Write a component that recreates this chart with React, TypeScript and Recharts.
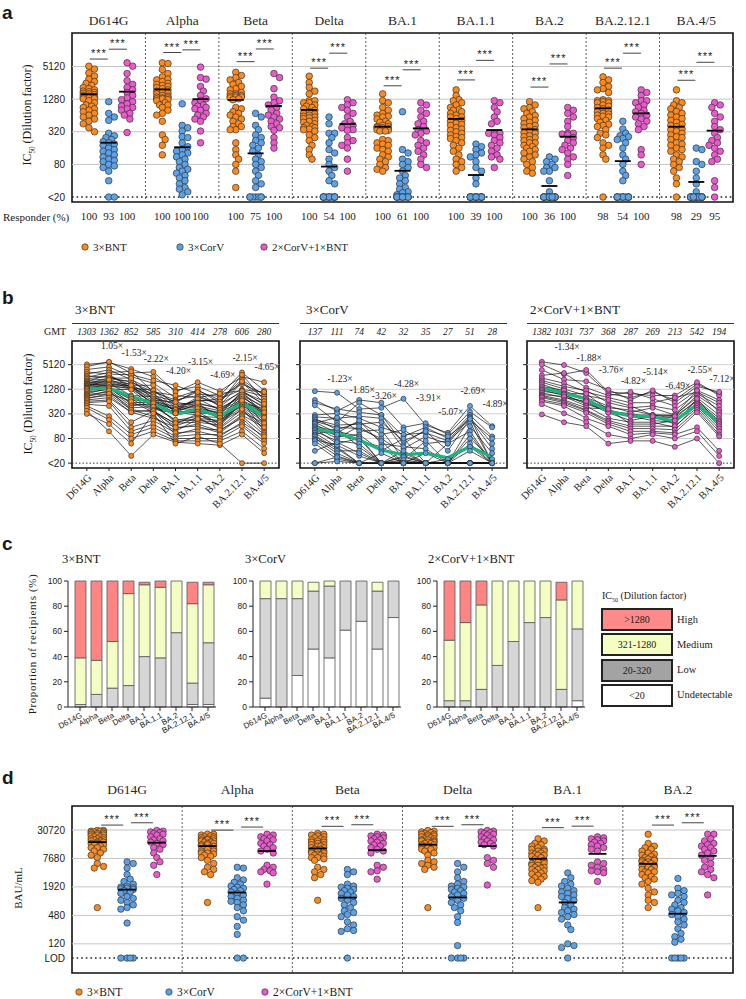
import React from "react";
import { ComposedChart, BarChart, Bar, Line, Scatter, XAxis, YAxis, ReferenceLine, ReferenceArea } from "recharts";

const SERIF = '"Liberation Serif", "Times New Roman", serif';
const SANS = '"Liberation Sans", Arial, sans-serif';
const INK = "#1a1a1a";

const variants = ["D614G", "Alpha", "Beta", "Delta", "BA.1", "BA.1.1", "BA.2", "BA.2.12.1", "BA.4/5"];
const cohorts = ["3×BNT", "3×CorV", "2×CorV+1×BNT"];
const cohortColors = ["#ff8a1c", "#5aa2ea", "#ee58cf"];

// IC50 per participant, columns follow `variants`; 0 = below the <20 cut-off
const bntIc50 = [
  [5200, 5800, 4000, 2600, 1200, 1500, 900, 3300, 1200],
  [4600, 6000, 3200, 3400, 1100, 1900, 1150, 2600, 1900],
  [3900, 4500, 2600, 1800, 800, 1200, 700, 2200, 900],
  [3400, 3000, 2900, 2100, 1600, 1000, 850, 1700, 1000],
  [3000, 3800, 2200, 1200, 600, 1250, 600, 2900, 700],
  [2700, 2500, 1900, 1100, 900, 800, 1000, 1200, 850],
  [2500, 3300, 3500, 1100, 700, 900, 520, 1900, 600],
  [2300, 2700, 1600, 1600, 500, 650, 750, 1250, 1100],
  [2100, 2300, 2000, 900, 650, 1100, 480, 1200, 520],
  [2000, 2900, 1400, 1200, 450, 700, 640, 2000, 760],
  [1900, 2100, 1700, 800, 550, 600, 420, 900, 480],
  [1800, 2000, 1500, 1000, 400, 820, 560, 1100, 650],
  [1750, 2400, 2400, 700, 620, 500, 380, 1000, 440],
  [1700, 1900, 1350, 950, 350, 560, 450, 800, 400],
  [1650, 1700, 1500, 650, 480, 460, 330, 1100, 560],
  [1600, 1800, 900, 850, 380, 750, 400, 700, 360],
  [1550, 1600, 1300, 600, 420, 420, 350, 650, 330],
  [1500, 2200, 1450, 750, 380, 520, 300, 1150, 300],
  [1450, 1500, 1400, 560, 340, 380, 270, 600, 420],
  [1400, 1400, 700, 680, 330, 440, 250, 950, 280],
  [1380, 1650, 1600, 500, 360, 340, 310, 560, 250],
  [1350, 1350, 600, 620, 400, 600, 230, 520, 230],
  [1320, 1300, 1250, 450, 350, 300, 200, 850, 350],
  [1300, 1450, 550, 520, 220, 280, 260, 480, 200],
  [1200, 1300, 850, 420, 330, 360, 180, 750, 180],
  [1100, 1250, 500, 580, 200, 250, 220, 440, 160],
  [1000, 1350, 750, 380, 180, 320, 160, 620, 260],
  [950, 1100, 450, 480, 230, 220, 200, 400, 140],
  [900, 1000, 650, 350, 160, 260, 140, 350, 190],
  [850, 1200, 400, 360, 190, 200, 170, 680, 120],
  [800, 900, 350, 400, 140, 180, 120, 300, 150],
  [750, 1000, 400, 280, 120, 240, 150, 420, 110],
  [700, 800, 350, 250, 150, 160, 110, 280, 100],
  [650, 700, 200, 380, 100, 140, 130, 250, 80],
  [600, 650, 150, 220, 110, 120, 90, 200, 90],
  [550, 500, 120, 180, 90, 100, 100, 180, 70],
  [500, 280, 100, 150, 80, 80, 80, 160, 60],
  [450, 230, 80, 120, 70, 70, 70, 120, 45],
  [380, 120, 30, 100, 65, 60, 55, 100, 35],
  [320, 180, 60, 330, 60, 90, 60, 0, 0],
];

const corvIc50 = [
  [1150, 1050, 420, 450, 750, 170, 110, 500, 160],
  [700, 380, 700, 600, 150, 190, 100, 360, 150],
  [600, 420, 350, 300, 90, 150, 80, 300, 90],
  [520, 200, 600, 300, 60, 130, 90, 230, 80],
  [300, 330, 250, 150, 100, 110, 70, 270, 0],
  [270, 250, 280, 250, 45, 90, 60, 260, 60],
  [250, 130, 200, 100, 130, 60, 70, 200, 0],
  [230, 170, 180, 200, 70, 120, 40, 240, 45],
  [210, 150, 140, 80, 35, 0, 60, 120, 0],
  [200, 110, 220, 60, 50, 45, 0, 160, 35],
  [190, 260, 120, 130, 25, 70, 0, 100, 0],
  [180, 90, 100, 40, 80, 0, 0, 80, 25],
  [160, 120, 90, 0, 30, 0, 0, 60, 0],
  [150, 80, 160, 70, 0, 0, 25, 50, 0],
  [140, 60, 80, 0, 40, 0, 0, 40, 0],
  [130, 100, 70, 50, 0, 35, 0, 0, 0],
  [120, 70, 60, 0, 28, 0, 0, 0, 0],
  [110, 50, 0, 35, 0, 0, 0, 0, 0],
  [100, 140, 50, 0, 22, 0, 0, 0, 0],
  [95, 45, 0, 0, 0, 0, 0, 0, 0],
  [90, 40, 40, 0, 24, 0, 0, 0, 0],
  [80, 35, 0, 0, 0, 0, 0, 0, 0],
  [75, 55, 30, 0, 0, 0, 0, 0, 0],
  [70, 30, 0, 0, 0, 0, 0, 0, 0],
  [60, 25, 0, 0, 0, 0, 0, 0, 0],
  [40, 65, 35, 0, 0, 0, 0, 0, 0],
  [0, 28, 0, 0, 0, 0, 0, 0, 0],
  [0, 22, 0, 0, 0, 0, 0, 0, 0],
];

const boostIc50 = [
  [6000, 5000, 3200, 1000, 800, 1100, 700, 1700, 1000],
  [5200, 3000, 3800, 1100, 1000, 900, 900, 1900, 900],
  [3800, 2200, 2000, 1250, 700, 1200, 600, 1500, 1100],
  [2800, 3200, 1400, 900, 1100, 750, 500, 1200, 700],
  [2400, 1800, 1100, 800, 600, 600, 800, 1100, 600],
  [2100, 1500, 1200, 600, 450, 500, 400, 1000, 500],
  [1900, 1300, 900, 700, 500, 300, 290, 900, 400],
  [1700, 1100, 800, 500, 350, 450, 300, 1200, 350],
  [1500, 1200, 700, 450, 400, 300, 300, 800, 300],
  [1350, 1000, 1000, 400, 300, 300, 250, 700, 250],
  [1250, 900, 600, 350, 330, 250, 280, 650, 220],
  [1150, 950, 550, 380, 280, 220, 200, 600, 200],
  [1050, 800, 650, 340, 220, 280, 180, 750, 180],
  [950, 850, 500, 250, 200, 200, 150, 550, 160],
  [900, 700, 450, 420, 180, 180, 220, 500, 140],
  [850, 650, 400, 220, 160, 160, 160, 450, 120],
  [800, 600, 380, 200, 140, 140, 130, 400, 100],
  [700, 550, 340, 180, 120, 120, 110, 350, 90],
  [650, 500, 250, 160, 100, 110, 100, 150, 40],
  [550, 330, 200, 100, 80, 100, 80, 120, 30],
  [310, 200, 160, 60, 70, 70, 50, 80, 0],
];

const bntGmt = [1303, 1362, 852, 585, 310, 414, 278, 606, 280];
const corvGmt = [137, 111, 74, 42, 32, 35, 27, 51, 28];
const boostGmt = [1382, 1031, 737, 368, 287, 269, 213, 542, 194];

// centre bars in panel a
const bntMedian = [1580, 1940, 1240, 810, 397, 553, 355, 868, 397];
const corvMedian = [201, 166, 128, 73, 61, 51, 32, 92, 38];
const boostMedian = [1760, 1280, 957, 446, 370, 345, 260, 700, 336];

const responders = [
  [100, 93, 100], [100, 100, 100], [100, 75, 100], [100, 54, 100], [100, 61, 100],
  [100, 39, 100], [100, 36, 100], [98, 54, 100], [98, 29, 95],
];

// height of the *** brackets
const sigBntCorv = [7040, 9300, 6300, 4780, 2260, 2900, 2140, 4780, 2860];
const sigCorvBoost = [10700, 10400, 10800, 9040, 4460, 6660, 5720, 9040, 6140];

const foldBnt = ["", "1.05×", "-1.53×", "-2.22×", "-4.20×", "-3.15×", "-4.69×", "-2.15×", "-4.65×"];
const foldBntAt = [0, 12300, 8440, 6050, 2940, 5020, 2450, 6300, 3780];
const foldCorv = ["", "-1.23×", "-1.85×", "-3.26×", "-4.28×", "-3.91×", "-5.07×", "-2.69×", "-4.89×"];
const foldCorvAt = [0, 1890, 1020, 735, 1420, 650, 305, 960, 460];
const foldBoost = ["", "-1.34×", "-1.88×", "-3.76×", "-4.82×", "-5.14×", "-6.49×", "-2.55×", "-7.12×"];
const foldBoostAt = [0, 11700, 6300, 3240, 1690, 2860, 1280, 3150, 1890];

// panel c: % of recipients per band [<20, 20-320, 321-1280, >1280]
const shareBnt = [[0, 2, 37, 61], [0, 10, 27, 63], [0, 15, 37, 48], [0, 17, 73, 10], [0, 40, 57, 2], [0, 39, 56, 5], [0, 59, 41, 0], [2, 17, 63, 17], [2, 49, 46, 2]];
const shareCorv = [[7, 79, 14, 0], [0, 86, 14, 0], [25, 61, 14, 0], [46, 46, 7, 0], [39, 57, 4, 0], [61, 39, 0, 0], [68, 32, 0, 0], [46, 46, 7, 0], [71, 29, 0, 0]];
const shareBoost = [[0, 5, 48, 47], [0, 5, 62, 33], [0, 14, 67, 19], [0, 33, 67, 0], [0, 52, 48, 0], [0, 67, 33, 0], [0, 71, 29, 0], [0, 14, 71, 14], [5, 57, 38, 0]];
const bandNames = [">1280", "321-1280", "20-320", "<20"];
const bandLabels = ["High", "Medium", "Low", "Undetectable"];

// panel d: BAU/mL, 0 = below LOD
const dVariants = ["D614G", "Alpha", "Beta", "Delta", "BA.1", "BA.2"];
const bauBnt = [
  [30000, 30000, 29000, 29000, 28000, 28000, 27000, 26000, 26000, 25000, 24000, 24000, 23000, 22000, 22000, 21000, 20000, 20000, 19000, 19000, 18000, 18000, 17000, 17000, 16000, 16000, 15000, 15000, 14000, 13000, 13000, 12000, 11000, 10000, 9000, 8000, 6000, 5200, 4800, 700],
  [25000, 25000, 24000, 23000, 22000, 22000, 21000, 20000, 20000, 19000, 19000, 18000, 18000, 17000, 17000, 16000, 16000, 15000, 15000, 14000, 14000, 13000, 13000, 12000, 12000, 11000, 11000, 10000, 10000, 9500, 9000, 8500, 8000, 7000, 6000, 5000, 4500, 4000, 3500, 900],
  [26000, 25000, 24000, 23000, 22000, 21000, 20000, 19000, 19000, 18000, 17000, 17000, 16000, 15000, 15000, 14000, 14000, 13000, 13000, 12000, 12000, 11000, 11000, 10000, 10000, 9500, 9000, 9000, 8500, 8000, 7500, 7000, 5000, 4500, 4000, 3500, 3000, 8000, 11000, 1000],
  [30000, 29000, 28000, 27000, 26000, 25000, 25000, 24000, 23000, 22000, 22000, 21000, 20000, 20000, 19000, 19000, 18000, 18000, 17000, 17000, 16000, 16000, 15000, 15000, 14000, 14000, 13000, 13000, 12000, 12000, 11000, 10000, 9000, 7000, 6500, 6000, 5500, 5000, 4500, 700],
  [20000, 18000, 16000, 15000, 14000, 13000, 12000, 12000, 11000, 11000, 10000, 10000, 9500, 9000, 9000, 8500, 8000, 7500, 7000, 6500, 6000, 6000, 5500, 5500, 5000, 5000, 4800, 4500, 4500, 4200, 4000, 3800, 3600, 3400, 3200, 3000, 2800, 2600, 2400, 700],
  [25000, 16000, 14000, 13000, 12000, 11000, 10000, 9500, 9000, 8500, 8000, 7500, 7500, 7000, 7000, 6500, 6500, 6000, 6000, 5500, 5500, 5000, 5000, 4500, 4500, 4000, 4000, 3800, 3500, 3200, 3000, 2800, 2500, 2200, 1800, 1500, 1300, 1000, 900, 700],
];
const bauCorv = [
  [6500, 6000, 4800, 3500, 2800, 2500, 2200, 2000, 1900, 1850, 1800, 1750, 1700, 1600, 1500, 1400, 1200, 1100, 1000, 900, 800, 700, 650, 330, 0, 0, 0, 0],
  [5000, 4800, 3000, 2700, 2400, 2200, 2000, 1900, 1800, 1700, 1600, 1500, 1400, 1300, 1200, 1100, 1000, 950, 900, 800, 700, 600, 450, 380, 280, 190, 0, 0],
  [4500, 4000, 3500, 2200, 2000, 1900, 1800, 1700, 1600, 1500, 1400, 1300, 1200, 1100, 1000, 900, 800, 700, 600, 550, 500, 450, 350, 300, 250, 230, 220, 0],
  [6000, 5000, 4000, 3000, 2500, 2200, 2000, 1900, 1800, 1700, 1600, 1500, 1400, 1300, 1200, 1100, 1000, 900, 800, 700, 600, 450, 340, 110, 0, 0, 0, 0],
  [3800, 3000, 2500, 2200, 2000, 1800, 1600, 1500, 1400, 1300, 1200, 1100, 1000, 900, 800, 700, 650, 600, 550, 500, 450, 400, 300, 240, 120, 110, 100, 0],
  [2900, 1800, 1600, 1400, 1300, 1200, 1000, 900, 800, 700, 650, 600, 550, 500, 450, 400, 350, 300, 250, 200, 170, 150, 130, 0, 0, 0, 0, 0],
];
const bauBoost = [
  [30000, 29000, 28000, 27000, 26000, 25000, 24000, 22000, 20000, 19000, 18000, 17000, 16000, 15000, 13000, 12000, 10000, 8000, 6500, 5500, 3500],
  [25000, 24000, 22000, 21000, 20000, 19000, 18000, 16000, 15000, 14000, 13000, 12000, 11000, 10000, 5500, 5000, 4500, 4200, 4000, 3800, 2200],
  [25000, 24000, 23000, 22000, 21000, 20000, 19000, 18000, 17000, 16000, 15000, 14000, 13000, 12000, 11000, 10000, 5500, 5000, 4200, 4000, 2800],
  [30000, 29000, 28000, 27000, 26000, 25000, 24000, 22000, 21000, 20000, 19000, 18000, 17000, 16000, 15000, 14000, 8000, 7000, 6000, 5000, 2100],
  [22000, 21000, 20000, 19000, 18000, 17000, 16000, 15000, 14000, 13000, 12000, 11000, 6500, 6000, 5500, 5000, 4500, 4200, 4000, 3800, 2500],
  [25000, 25000, 20000, 18000, 16000, 15000, 14000, 13000, 12000, 11000, 10000, 9000, 8000, 7000, 6000, 5000, 4500, 4000, 3500, 3000, 1300],
];
const bauMean = [
  [17000, 1680, 16500], [14000, 1460, 11000], [12500, 1140, 11500],
  [15000, 1150, 14000], [7550, 900, 9600], [5900, 520, 8700],
];
const dSigBntCorv = [39000, 30500, 36700, 36700, 34400, 39000];
const dSigCorvBoost = [43600, 35400, 39600, 39600, 37000, 43600];

const cohortRows = [bntIc50, corvIc50, boostIc50];
const cohortGmt = [bntGmt, corvGmt, boostGmt];
const cohortMedian = [bntMedian, corvMedian, boostMedian];
const cohortFold = [foldBnt, foldCorv, foldBoost];
const cohortFoldAt = [foldBntAt, foldCorvAt, foldBoostAt];
const cohortShare = [shareBnt, shareCorv, shareBoost];
const bauCohorts = [bauBnt, bauCorv, bauBoost];

const A_DOMAIN: [number, number] = [16.2, 21300];
const B_DOMAIN: [number, number] = [15.2, 19380];
const D_DOMAIN: [number, number] = [29, 98700];
const offA = [-0.27, 0, 0.25];
const offD = [-0.27, 0, 0.27];
const vIdx = variants.map((_, i) => i);

const logPx = (v: number, dom: [number, number], h: number) =>
  (h * (Math.log(dom[1]) - Math.log(v))) / (Math.log(dom[1]) - Math.log(dom[0]));

// simple beeswarm: spread points sideways so they don't sit on top of each other
function swarm(vals: number[], center: number, floor: number, dom: [number, number], h: number, unit: number, step: number, maxK: number) {
  const placed: [number, number][] = [];
  return vals
    .map((v) => Math.max(v, floor))
    .sort((a, b) => b - a)
    .map((v) => {
      const py = logPx(v, dom, h);
      let best = 0;
      let bestCost = Infinity;
      for (let k = 0; k <= maxK * 2; k++) {
        const off = k === 0 ? 0 : (k % 2 ? 1 : -1) * Math.ceil(k / 2) * step;
        let cost = Math.abs(off) * 0.01;
        for (const [qx, qy] of placed) {
          const d = Math.hypot(qx - off, qy - py);
          if (d < 5) cost += 5 - d;
        }
        if (cost < bestCost) {
          bestCost = cost;
          best = off;
        }
      }
      placed.push([best, py]);
      return { x: center + best / unit, y: v };
    });
}

const dotShape = (fill: string, r: number) => (p: any) => (
  <circle cx={p.cx} cy={p.cy} r={r} fill={fill} stroke="#333" strokeWidth={0.7} />
);
const barShape = (half: number) => (p: any) => (
  <line x1={p.cx - half} x2={p.cx + half} y1={p.cy} y2={p.cy} stroke="#000" strokeWidth={1.8} />
);
const sigShape = (half: number) => (p: any) => (
  <g>
    <line x1={p.cx - half} x2={p.cx + half} y1={p.cy} y2={p.cy} stroke="#444" strokeWidth={1} />
    <text x={p.cx} y={p.cy - 2} textAnchor="middle" fontSize={11} fontFamily={SANS} fill={INK} letterSpacing={1}>***</text>
  </g>
);
const noteShape = (p: any) => (
  <text x={p.cx + 3} y={p.cy} textAnchor="middle" fontSize={9.5} fontFamily={SERIF} fill="#222">
    {p.payload?.label ?? p.label}
  </text>
);

function Txt({ x, y, size = 12, family = SERIF, bold = false, center = false, children }: any) {
  return (
    <div style={{ position: "absolute", left: x, top: y, transform: center ? "translate(-50%,-50%)" : "translateY(-50%)", fontSize: size, fontFamily: family, fontWeight: bold ? 700 : 400, color: INK, whiteSpace: "nowrap", lineHeight: 1 }}>
      {children}
    </div>
  );
}

function VTxt({ x, y, size = 12, children, spacing = 0 }: any) {
  return (
    <div style={{ position: "absolute", left: x, top: y, transform: "translate(-50%,-50%) rotate(-90deg)", fontSize: size, fontFamily: SERIF, color: INK, whiteSpace: "nowrap", lineHeight: 1, letterSpacing: spacing }}>
      {children}
    </div>
  );
}

const Ic50 = () => (
  <>IC<sub style={{ fontSize: "0.6em" }}>50</sub> (Dilution factor)</>
);

function Legend({ y, xs, size }: { y: number; xs: number[]; size: number }) {
  return (
    <>
      {cohorts.map((c, g) => (
        <div key={c} style={{ position: "absolute", left: xs[g] - 4, top: y, transform: "translateY(-50%)", display: "flex", alignItems: "center", gap: 4, fontFamily: SERIF, fontSize: size, color: INK, whiteSpace: "nowrap" }}>
          <svg width={8} height={8}>
            <circle cx={4} cy={4} r={3.2} fill={cohortColors[g]} stroke="#333" strokeWidth={0.7} />
          </svg>
          <span>{c}</span>
        </div>
      ))}
    </>
  );
}

function PanelA() {
  const pts = cohortRows.map((rows, g) =>
    variants.flatMap((_, i) => swarm(rows.map((r) => r[i]), i + offA[g], 20, A_DOMAIN, 169, 73.44, 2.8, 2))
  );
  const meds = cohortMedian.map((m, g) => m.map((v, i) => ({ x: i + offA[g], y: v })));
  const sigs = [
    ...sigBntCorv.map((v, i) => ({ x: i + (offA[0] + offA[1]) / 2, y: v })),
    ...sigCorvBoost.map((v, i) => ({ x: i + (offA[1] + offA[2]) / 2, y: v })),
  ];
  const respTicks = variants.flatMap((_, i) => offA.map((o) => i + o));
  const respLabel = (v: number) => {
    const i = Math.round(v);
    let g = 0;
    offA.forEach((o, k) => {
      if (Math.abs(v - i - o) < Math.abs(v - i - offA[g])) g = k;
    });
    return String(responders[i][g]);
  };
  return (
    <ComposedChart width={746} height={232} margin={{ top: 13, right: 13, bottom: 2, left: 0 }}>
      <XAxis type="number" dataKey="x" orientation="top" domain={[-0.5, 8.5]} allowDataOverflow ticks={vIdx} interval={0}
        tickFormatter={(i: number) => variants[i]} axisLine={false} tickLine={false} tickSize={0} tickMargin={8} height={20}
        tick={{ fontFamily: SERIF, fontSize: 13.5, fontWeight: 400, fill: "#2a2a2a" }} />
      <XAxis xAxisId="r" type="number" dataKey="x" domain={[-0.5, 8.5]} allowDataOverflow ticks={respTicks} interval={0}
        tickFormatter={respLabel} axisLine={false} tickLine={false} tickSize={0} tickMargin={10} height={28}
        tick={{ fontFamily: SERIF, fontSize: 11, fill: INK }} />
      <YAxis type="number" dataKey="y" scale="log" domain={A_DOMAIN} allowDataOverflow ticks={[20, 80, 320, 1280, 5120]} interval={0}
        tickFormatter={(v: number) => (v === 20 ? "<20" : String(v))} width={72} axisLine={false} tickLine={false} tickSize={0} tickMargin={7}
        tick={{ fontFamily: SANS, fontSize: 10, fill: INK }} />
      {[80, 320, 1280, 5120].map((v) => (
        <ReferenceLine key={v} y={v} stroke="#c4c4c4" strokeWidth={1} />
      ))}
      <ReferenceLine y={20} stroke="#222" strokeWidth={1.6} strokeDasharray="1.6 3" />
      {[0.5, 1.5, 2.5, 3.5, 4.5, 5.5, 6.5, 7.5].map((x) => (
        <ReferenceLine key={x} x={x} stroke="#333" strokeWidth={0.8} strokeDasharray="2 2" />
      ))}
      <ReferenceArea x1={-0.5} x2={8.5} y1={A_DOMAIN[0]} y2={A_DOMAIN[1]} fill="none" stroke="#111" strokeWidth={1.6} />
      {pts.map((p, g) => (
        <Scatter key={g} data={p} shape={dotShape(cohortColors[g], 3.3)} isAnimationActive={false} />
      ))}
      {meds.map((m, g) => (
        <Scatter key={"m" + g} data={m} shape={barShape(8)} isAnimationActive={false} />
      ))}
      <Scatter data={sigs} shape={sigShape(9)} isAnimationActive={false} />
    </ComposedChart>
  );
}

function PanelB({ g }: { g: number }) {
  const rows = cohortRows[g];
  const data = variants.map((_, i) => {
    const o: any = { x: i, gmt: cohortGmt[g][i] };
    rows.forEach((r, j) => {
      o["s" + j] = Math.max(r[i], 20);
    });
    return o;
  });
  const dots = rows.flatMap((r) => r.map((v, i) => ({ x: i, y: Math.max(v, 20) })));
  const notes = cohortFold[g].map((t, i) => ({ x: i, y: cohortFoldAt[g][i], label: t })).filter((n) => n.label);
  return (
    <ComposedChart width={290} height={200} data={data} margin={{ top: 3, right: 11, bottom: 2, left: 0 }}>
      <XAxis type="number" dataKey="x" domain={[-0.67, 8.67]} allowDataOverflow ticks={vIdx} interval={0}
        tickFormatter={(i: number) => variants[i]} angle={-45} textAnchor="end" height={50} axisLine={false}
        tickSize={3} tickMargin={2} stroke="#222" tick={{ fontFamily: SERIF, fontSize: 10.5, fill: INK }} />
      <XAxis xAxisId="g" orientation="top" type="number" dataKey="x" domain={[-0.67, 8.67]} allowDataOverflow ticks={vIdx} interval={0}
        tickFormatter={(i: number) => String(cohortGmt[g][i])} height={18} axisLine={false} tickLine={false} tickSize={0} tickMargin={6}
        tick={{ fontFamily: SERIF, fontStyle: "italic", fontSize: 9.5, fill: "#222" }} />
      <YAxis type="number" dataKey="y" scale="log" domain={B_DOMAIN} allowDataOverflow ticks={[20, 80, 320, 1280, 5120]} interval={0}
        tickFormatter={(v: number) => (g === 0 ? (v === 20 ? "<20" : String(v)) : "")} width={72} axisLine={false}
        tickSize={4} tickMargin={3} stroke="#222" tick={{ fontFamily: SANS, fontSize: 10, fill: INK }} />
      {[80, 320, 1280, 5120].map((v) => (
        <ReferenceLine key={v} y={v} stroke="#cfcfcf" strokeWidth={1} />
      ))}
      <ReferenceLine y={20} stroke="#333" strokeWidth={1} strokeDasharray="1.5 2" />
      <ReferenceArea x1={-0.67} x2={8.67} y1={B_DOMAIN[0]} y2={B_DOMAIN[1]} fill="none" stroke="#111" strokeWidth={1.6} />
      {rows.map((_, j) => (
        <Line key={j} dataKey={"s" + j} stroke="#111" strokeWidth={0.7} dot={false} activeDot={false} isAnimationActive={false} />
      ))}
      <Line dataKey="gmt" stroke="#1db37e" strokeWidth={3.2} dot={false} activeDot={false} isAnimationActive={false} />
      <Scatter data={dots} shape={dotShape(cohortColors[g], 2.5)} isAnimationActive={false} />
      <Scatter data={notes} shape={noteShape} isAnimationActive={false} />
    </ComposedChart>
  );
}

const shareColors = ["#ffffff", "#d6d6d6", "#f4fec4", "#ff8585"];

function PanelC({ g }: { g: number }) {
  const data = variants.map((name, i) => {
    const [und, low, med, high] = cohortShare[g][i];
    return { name, und, low, med, high };
  });
  return (
    <BarChart width={225} height={185} data={data} margin={{ top: 11, right: 9, bottom: 3, left: 0 }}>
      <XAxis dataKey="name" interval={0} padding={{ left: 4, right: 0 }} height={45} angle={-28} textAnchor="end"
        tickSize={4} tickMargin={1} stroke="#222" tick={{ fontFamily: SANS, fontSize: 8, fill: INK }} />
      <YAxis width={68} domain={[0, 100]} ticks={[0, 20, 40, 60, 80, 100]} interval={0} tickSize={4} tickMargin={2}
        stroke="#222" tick={{ fontFamily: SANS, fontSize: 8.5, fill: INK }} />
      {["und", "low", "med", "high"].map((k, i) => (
        <Bar key={k} dataKey={k} stackId="s" barSize={11} fill={shareColors[i]} stroke="#555" strokeWidth={0.8} isAnimationActive={false} />
      ))}
    </BarChart>
  );
}

function PanelD() {
  const pts = bauCohorts.map((arrs, g) =>
    arrs.flatMap((vals, i) => swarm(vals, i + offD[g], 60, D_DOMAIN, 167, 110.17, 3.1, 2))
  );
  const means = [0, 1, 2].map((g) => bauMean.map((m, i) => ({ x: i + offD[g], y: m[g] })));
  const sigs = [
    ...dSigBntCorv.map((v, i) => ({ x: i + (offD[0] + offD[1]) / 2, y: v })),
    ...dSigCorvBoost.map((v, i) => ({ x: i + (offD[1] + offD[2]) / 2, y: v })),
  ];
  const dIdx = dVariants.map((_, i) => i);
  return (
    <ComposedChart width={746} height={215} margin={{ top: 16, right: 13, bottom: 12, left: 0 }}>
      <XAxis type="number" dataKey="x" orientation="top" domain={[-0.5, 5.5]} allowDataOverflow ticks={dIdx} interval={0}
        tickFormatter={(i: number) => dVariants[i]} axisLine={false} tickLine={false} tickSize={0} tickMargin={12} height={20}
        tick={{ fontFamily: SERIF, fontSize: 13.5, fontWeight: 400, fill: "#2a2a2a" }} />
      <YAxis type="number" dataKey="y" scale="log" domain={D_DOMAIN} allowDataOverflow ticks={[60, 120, 480, 1920, 7680, 30720]} interval={0}
        tickFormatter={(v: number) => (v === 60 ? "LOD" : String(v))} width={72} axisLine={false} tickLine={false} tickSize={0} tickMargin={7}
        tick={{ fontFamily: SANS, fontSize: 10, fill: INK }} />
      {[120, 480, 1920, 7680, 30720].map((v) => (
        <ReferenceLine key={v} y={v} stroke="#c4c4c4" strokeWidth={1} />
      ))}
      <ReferenceLine y={60} stroke="#222" strokeWidth={1.6} strokeDasharray="1.6 3" />
      {[0.5, 1.5, 2.5, 3.5, 4.5].map((x) => (
        <ReferenceLine key={x} x={x} stroke="#333" strokeWidth={0.8} strokeDasharray="2 2" />
      ))}
      <ReferenceArea x1={-0.5} x2={5.5} y1={D_DOMAIN[0]} y2={D_DOMAIN[1]} fill="none" stroke="#111" strokeWidth={1.6} />
      {pts.map((p, g) => (
        <Scatter key={g} data={p} shape={dotShape(cohortColors[g], 3.2)} isAnimationActive={false} />
      ))}
      {means.map((m, g) => (
        <Scatter key={"m" + g} data={m} shape={barShape(9)} isAnimationActive={false} />
      ))}
      <Scatter data={sigs} shape={sigShape(11)} isAnimationActive={false} />
    </ComposedChart>
  );
}

const legendFill = ["#ff8a8a", "#f5fec2", "#a3a3a3", "#ffffff"];

export default function App() {
  return (
    <div style={{ position: "absolute", left: 0, top: 0, width: 746, height: 999, background: "#fff", overflow: "hidden" }}>
      {/* a */}
      <div style={{ position: "absolute", left: 0, top: 0 }}>
        <PanelA />
      </div>
      <Txt x={2} y={12} size={19} family={SANS} bold>a</Txt>
      <VTxt x={29} y={115} size={12}><Ic50 /></VTxt>
      <Txt x={3} y={217} size={11}>Responder (%)</Txt>
      <Legend y={247} xs={[85, 180, 264]} size={11} />

      {/* b */}
      <Txt x={2} y={297} size={19} family={SANS} bold>b</Txt>
      {cohorts.map((c, g) => (
        <Txt key={c} x={[75, 306, 530][g]} y={309} size={13}>{c}</Txt>
      ))}
      {[72, 300, 527].map((x) => (
        <div key={x} style={{ position: "absolute", left: x, top: 323, width: 207, borderTop: "1px solid #333" }} />
      ))}
      <Txt x={44} y={332} size={10}>GMT</Txt>
      {[0, 228, 455].map((left, g) => (
        <div key={g} style={{ position: "absolute", left, top: 320 }}>
          <PanelB g={g} />
        </div>
      ))}
      <VTxt x={30} y={404} size={12}><Ic50 /></VTxt>

      {/* c */}
      <Txt x={2} y={543} size={19} family={SANS} bold>c</Txt>
      {cohorts.map((c, g) => (
        <Txt key={c} x={[62, 245, 428][g]} y={559} size={12.5}>{c}</Txt>
      ))}
      {[0, 185, 369].map((left, g) => (
        <div key={g} style={{ position: "absolute", left, top: 570 }}>
          <PanelC g={g} />
        </div>
      ))}
      <VTxt x={32} y={644} size={11} spacing={0.6}>Proportion of recipients (%)</VTxt>
      <Txt x={602} y={597} size={10}><Ic50 /></Txt>
      {bandNames.map((b, i) => (
        <React.Fragment key={b}>
          <div style={{ position: "absolute", left: 601, top: 608 + i * 25.3, width: 68, height: 19, border: "2px solid #222", background: legendFill[i], fontFamily: SERIF, fontSize: 10, color: INK, display: "flex", alignItems: "center", justifyContent: "center" }}>
            {b}
          </div>
          <Txt x={677} y={619.5 + i * 25.3} size={10.5}>{bandLabels[i]}</Txt>
        </React.Fragment>
      ))}

      {/* d */}
      <Txt x={2} y={777} size={19} family={SANS} bold>d</Txt>
      <div style={{ position: "absolute", left: 0, top: 770 }}>
        <PanelD />
      </div>
      <VTxt x={18} y={888} size={11}>BAU/mL</VTxt>
      <Legend y={992} xs={[79, 169, 265]} size={11.5} />
    </div>
  );
}
